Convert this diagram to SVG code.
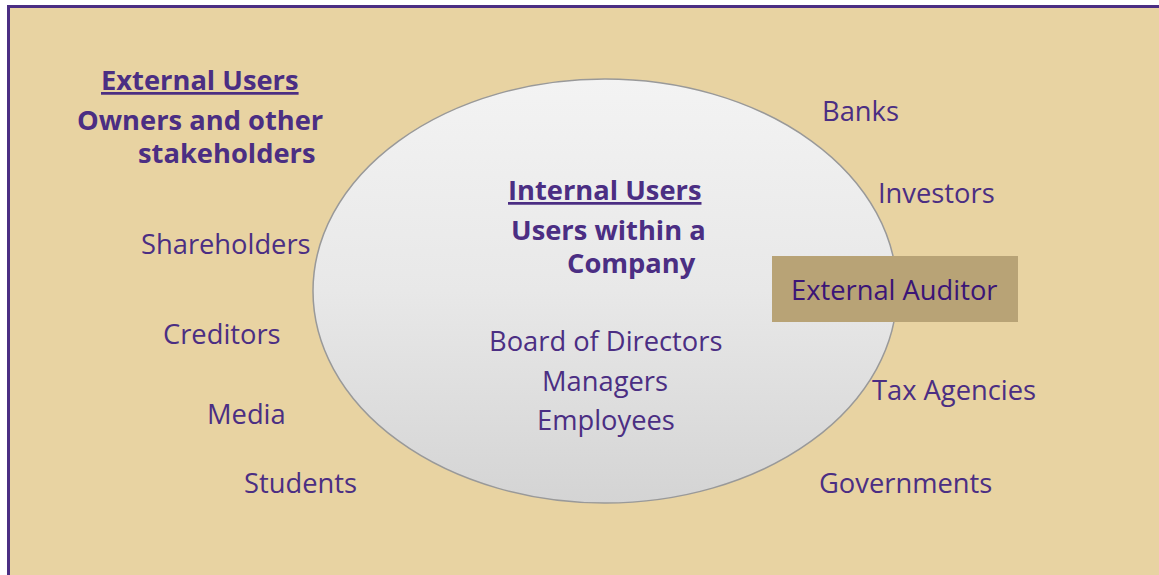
<svg xmlns="http://www.w3.org/2000/svg" width="1159" height="575" viewBox="0 0 1159 575">
  <defs>
    <linearGradient id="ovalFill" x1="0" y1="0" x2="0" y2="1">
      <stop offset="0" stop-color="#f3f3f3"/>
      <stop offset="0.5" stop-color="#e8e8e8"/>
      <stop offset="1" stop-color="#d4d4d4"/>
    </linearGradient>
    <style>
      text { font-family: "Open Sans", "Noto Sans", "Liberation Sans", sans-serif; fill: #4b2e83; }
      .reg { font-size: 27.3px; }
      .head { font-size: 27.3px; font-weight: bold; }
      .ul { text-decoration: underline; }
      .aud { font-size: 27.3px; fill: #3b1577; }
    </style>
  </defs>

  <!-- frame -->
  <rect x="0" y="0" width="1159" height="575" fill="#ffffff"/>
  <rect x="8.5" y="6.5" width="1160" height="580" fill="#e8d3a2" stroke="#4b2e83" stroke-width="3"/>

  <!-- internal users oval -->
  <g id="internal">
    <ellipse cx="605" cy="291" rx="292" ry="212" fill="url(#ovalFill)" stroke="#999999" stroke-width="1.5"/>
    <text class="head ul" x="508" y="200">Internal Users</text>
    <text class="head"><tspan x="511" y="240">Users within a</tspan><tspan x="567" y="273">Company</tspan></text>
    <text class="reg" x="489" y="351">Board of Directors</text>
    <text class="reg" x="542" y="391">Managers</text>
    <text class="reg" x="537" y="430">Employees</text>
  </g>

  <!-- external users heading -->
  <g id="external-heading">
    <text class="head ul" x="101" y="90">External Users</text>
    <text class="head"><tspan x="77" y="130">Owners and other</tspan><tspan x="138" y="163">stakeholders</tspan></text>
  </g>

  <!-- external users, left side -->
  <g id="shareholders"><text class="reg" x="141" y="254">Shareholders</text></g>
  <g id="creditors"><text class="reg" x="163" y="344">Creditors</text></g>
  <g id="media"><text class="reg" x="207" y="424">Media</text></g>
  <g id="students"><text class="reg" x="244" y="493">Students</text></g>

  <!-- external users, right side -->
  <g id="banks"><text class="reg" x="822" y="121">Banks</text></g>
  <g id="investors"><text class="reg" x="878" y="203">Investors</text></g>
  <g id="auditor">
    <rect x="772" y="256" width="246" height="66" fill="#b8a376"/>
    <text class="aud" x="791" y="300">External Auditor</text>
  </g>
  <g id="tax"><text class="reg" x="872" y="400">Tax Agencies</text></g>
  <g id="governments"><text class="reg" x="819" y="493">Governments</text></g>

  <g id="connectors"/>
</svg>
